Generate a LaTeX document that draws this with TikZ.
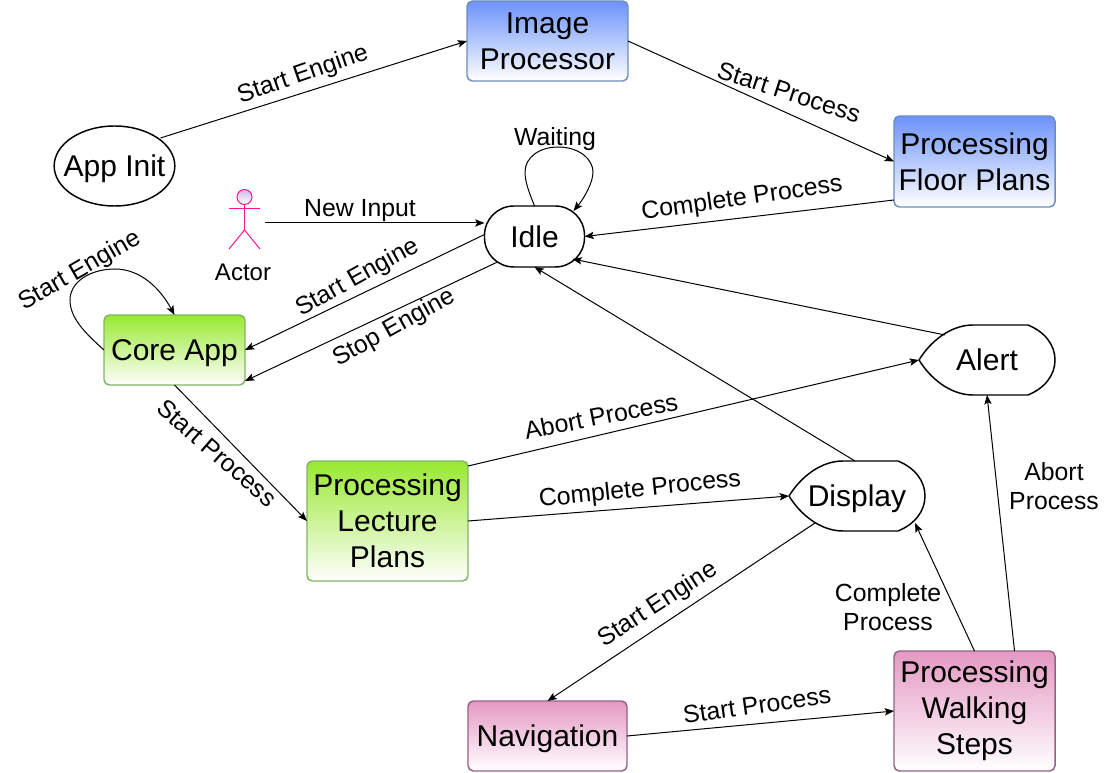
\documentclass[tikz,border=0pt]{standalone}
\usepackage{fontspec}
\setmainfont{Liberation Sans}
\usepackage{xcolor}
\definecolor{bluetop}{RGB}{108,146,250}
\definecolor{blueedge}{RGB}{108,142,191}
\definecolor{greentop}{RGB}{152,232,48}
\definecolor{greenedge}{RGB}{130,179,102}
\definecolor{pinktop}{RGB}{228,152,194}
\definecolor{pinkedge}{RGB}{150,97,133}
\definecolor{actorpink}{RGB}{255,20,147}
\definecolor{actorfill}{RGB}{205,185,230}
\usetikzlibrary{shapes.geometric, arrows.meta}
\tikzstyle{process} = [rectangle, rounded corners=4pt, line width=1.1pt, outer sep=0pt, inner sep=0pt, align=center, font=\fontsize{22.5}{27}\selectfont]
\tikzstyle{oneline} = [text height=16.8pt, text depth=1pt]
\tikzstyle{blueprocess} = [process, draw=blueedge, top color=bluetop, bottom color=white]
\tikzstyle{greenprocess} = [process, draw=greenedge, top color=greentop, bottom color=white]
\tikzstyle{pinkprocess} = [process, draw=pinkedge, top color=pinktop, bottom color=white]
\tikzstyle{startstate} = [ellipse, draw=black, line width=1.1pt, minimum width=90.5pt, minimum height=60pt, outer sep=0pt, inner sep=0pt, font=\fontsize{22.5}{27}\selectfont]
\tikzstyle{idlestate} = [rectangle, rounded corners=22pt, draw=black, line width=1.1pt, minimum width=75pt, minimum height=45.75pt, outer sep=0pt, inner sep=0pt, font=\fontsize{22.5}{27}\selectfont]
\tikzstyle{displaystate} = [rectangle, minimum width=102pt, minimum height=52.5pt, outer sep=0pt, inner sep=0pt, font=\fontsize{22.5}{27}\selectfont]
\tikzstyle{edgetext} = [align=center, inner sep=0pt, font=\fontsize{18.6}{21.75}\selectfont]
\tikzstyle{arrow} = [line width=0.75pt,-{Stealth[length=7pt,width=5.5pt,inset=1.5pt]}]
\tikzstyle{actorline} = [draw=actorpink, line width=0.75pt]
\newcommand{\displayoutline}[1]{
	\draw [line width=1.1pt, line join=round] (#1.west) .. controls ([shift={(11,-18)}]#1.west) and ([shift={(31,0)}]#1.north west) .. ([shift={(54,0)}]#1.north west) -- ([shift={(-27,0)}]#1.north east) .. controls ([shift={(-10,7)}]#1.north east) and ([shift={(0,20)}]#1.north east) .. (#1.east) .. controls ([shift={(0,-20)}]#1.south east) and ([shift={(-10,-7)}]#1.south east) .. ([shift={(-27,0)}]#1.south east) -- ([shift={(54,0)}]#1.south west) .. controls ([shift={(31,0)}]#1.south west) and ([shift={(11,18)}]#1.west) .. (#1.west);
}

\begin{document}
\begin{tikzpicture}[x=0.75pt, y=-0.75pt]
	\useasboundingbox (0,0) rectangle (1109,773);
	\node (appinit) [startstate, oneline] at (114.5,166) {\makebox[0pt]{App Init}};
	\node (imageproc) [blueprocess, minimum width=120.75pt, minimum height=60pt] at (547.5,41) {Image\\Processor};
	\node (floorplans) [blueprocess, minimum width=120.75pt, minimum height=68.25pt] at (974.5,161.5) {Processing\\Floor Plans};
	\node (idle) [idlestate, oneline] at (534.5,236.5) {Idle};
	\node (coreapp) [greenprocess, oneline, minimum width=105.75pt, minimum height=52.5pt] at (174.5,350) {Core App};
	\node (lectureplans) [greenprocess, minimum width=120.75pt, minimum height=90pt] at (387.5,521) {Processing\\Lecture\\Plans};
	\node (alert) [displaystate, oneline] at (987,360) {Alert};
	\node (display) [displaystate, oneline] at (857,496) {Display};
	\node (navigation) [pinkprocess, oneline, minimum width=119.25pt, minimum height=52.5pt] at (547.5,736) {Navigation};
	\node (walkingsteps) [pinkprocess, minimum width=120.75pt, minimum height=90pt] at (974.5,711) {Processing\\Walking\\Steps};
	\displayoutline{alert}
	\displayoutline{display}
	\node (actorhead) [circle, draw=actorpink, line width=0.75pt, top color=actorfill, bottom color=white, minimum size=11.25pt, inner sep=0pt, outer sep=0pt] at (244.5,197) {};
	\coordinate (actorhip) at (244.5,230);
	\coordinate (actorout) at (265,223);
	\draw [actorline] (actorhead.south) -- (actorhip);
	\draw [actorline] (229,209) -- (260,209);
	\draw [actorline] (229,249) -- (actorhip) -- (260,249);
	\node (actorname) [edgetext, font=\fontsize{18}{21.75}\selectfont] at (243,272) {Actor};
	\draw [arrow] ([shift={(46,-28)}]appinit.center) -- (imageproc.west);
	\draw [arrow] (imageproc.east) -- (floorplans.west);
	\draw [arrow] ([shift={(0,-7)}]floorplans.south west) -- (idle.east);
	\draw [arrow] (actorout) -- ([shift={(0,-13.5)}]idle.west);
	\draw [arrow] ([shift={(0,-2)}]idle.west) -- (coreapp.east);
	\draw [arrow] ([shift={(13,-5)}]idle.south west) -- ([shift={(0,-4)}]coreapp.south east);
	\draw [arrow] (coreapp.west) .. controls (85,333) and (70,318) .. (70,300) .. controls (70,282) and (90,269) .. (115,269) .. controls (140,269) and (160,288) .. (coreapp.north);
	\draw [arrow] (idle.north) .. controls (529,192) and (525,182) .. (525,172) .. controls (525,157) and (540,147) .. (558,147) .. controls (580,147) and (593,160) .. (593,172) .. controls (593,182) and (585,197) .. ([shift={(-11,5)}]idle.north east);
	\draw [arrow] (coreapp.south) -- (lectureplans.west);
	\draw [arrow] ([shift={(0,5)}]lectureplans.north east) -- (alert.west);
	\draw [arrow] (lectureplans.east) -- (display.west);
	\draw [arrow] ([shift={(-2,0)}]display.north) -- (idle.south);
	\draw [arrow] ([shift={(-42,10)}]alert.north) -- ([shift={(-12,-8)}]idle.south east);
	\draw [arrow] ([shift={(26,-8)}]display.south west) -- (navigation.north);
	\draw [arrow] (navigation.east) -- (walkingsteps.west);
	\draw [arrow] (walkingsteps.north) -- ([shift={(-10,-8)}]display.south east);
	\draw [arrow] ([shift={(40,0)}]walkingsteps.north) -- (alert.south);
	\node (startengineA) [edgetext, rotate=19] at (303,75) {Start Engine};
	\node (startprocessA) [edgetext, rotate=-18] at (789,92) {Start Process};
	\node (waitinglabel) [edgetext] at (555,139) {Waiting};
	\node (newinput) [edgetext] at (360,211) {New Input};
	\node (completeA) [edgetext, rotate=8] at (742,199) {Complete Process};
	\node (startengineB) [edgetext, rotate=29] at (358,278) {Start Engine};
	\node (stopengine) [edgetext, rotate=29] at (394,328) {Stop Engine};
	\node (startengineC) [edgetext, rotate=30] at (80,271) {Start Engine};
	\node (startprocessB) [edgetext, rotate=-41] at (217,453) {Start Process};
	\node (abortA) [edgetext, rotate=11] at (601,416) {Abort Process};
	\node (completeB) [edgetext, rotate=6] at (640,490) {Complete Process};
	\node (startengineD) [edgetext, rotate=33] at (658,605) {Start Engine};
	\node (startprocessC) [edgetext, rotate=8] at (757,705) {Start Process};
	\node (completeC) [edgetext] at (888,607) {Complete\\Process};
	\node (abortB) [edgetext] at (1054,486) {Abort\\Process};
\end{tikzpicture}
\end{document}
